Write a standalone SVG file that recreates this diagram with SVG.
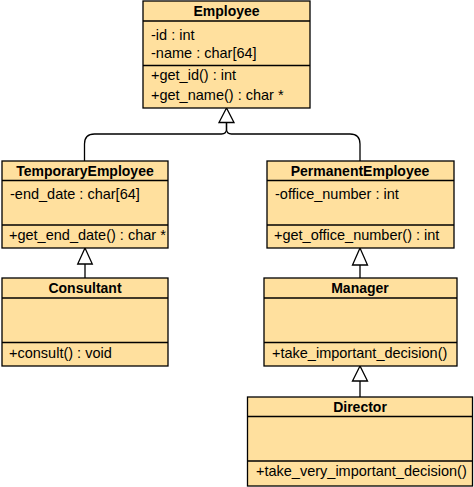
<svg xmlns="http://www.w3.org/2000/svg" width="474" height="487" viewBox="0 0 474 487">
<style>
.box{fill:#FFE09E;stroke:#000;stroke-width:1.3}
.ln{stroke:#000;stroke-width:1.3;fill:none}
.t{font-family:"Liberation Sans",Arial,sans-serif;font-size:14.5px;fill:#000}
.h{font-family:"Liberation Sans",Arial,sans-serif;font-size:14px;font-weight:bold;fill:#000;text-anchor:middle}
.edge{stroke:#000;stroke-width:1.3;fill:none}
.tri{fill:#fff;stroke:#000;stroke-width:1.3}
</style>
<rect width="474" height="487" fill="#fff"/>
<g id="connectors">
  <path class="edge" d="M226.5,122.5 V129 Q226.5,134 221.5,134 H94.5 Q84.5,134 84.5,144 V161"/>
  <path class="edge" d="M226.5,122.5 V129 Q226.5,134 231.5,134 H350 Q360,134 360,144 V161"/>
  <polygon class="tri" points="226.5,108 219,122.5 234,122.5"/>
  <path class="edge" d="M85,264 V278"/>
  <polygon class="tri" points="85,248 77.7,264 92.3,264"/>
  <path class="edge" d="M360,265 V278"/>
  <polygon class="tri" points="360,248 352.5,265 367.5,265"/>
  <path class="edge" d="M360,381 V397"/>
  <polygon class="tri" points="360,366 352.5,381 367.5,381"/>
</g>
<g id="Employee">
  <rect class="box" x="143" y="1" width="167" height="107"/>
  <line class="ln" x1="143" y1="21" x2="310" y2="21"/>
  <line class="ln" x1="143" y1="65.5" x2="310" y2="65.5"/>
  <text class="h" x="226.5" y="15.5">Employee</text>
  <text class="t" x="151" y="40">-id : int</text>
  <text class="t" x="151" y="58">-name : char[64]</text>
  <text class="t" x="151" y="80">+get_id() : int</text>
  <text class="t" x="151" y="100">+get_name() : char *</text>
</g>
<g id="TemporaryEmployee">
  <rect class="box" x="2" y="161" width="166" height="87"/>
  <line class="ln" x1="2" y1="180.5" x2="168" y2="180.5"/>
  <line class="ln" x1="2" y1="225" x2="168" y2="225"/>
  <text class="h" x="85" y="175.5">TemporaryEmployee</text>
  <text class="t" x="10" y="199">-end_date : char[64]</text>
  <text class="t" x="9" y="240">+get_end_date() : char *</text>
</g>
<g id="PermanentEmployee">
  <rect class="box" x="267" y="161" width="187" height="87"/>
  <line class="ln" x1="267" y1="180.5" x2="454" y2="180.5"/>
  <line class="ln" x1="267" y1="225" x2="454" y2="225"/>
  <text class="h" x="360" y="175.5">PermanentEmployee</text>
  <text class="t" x="275" y="199">-office_number : int</text>
  <text class="t" x="274" y="240">+get_office_number() : int</text>
</g>
<g id="Consultant">
  <rect class="box" x="2" y="278" width="166" height="88"/>
  <line class="ln" x1="2" y1="298" x2="168" y2="298"/>
  <line class="ln" x1="2" y1="342.5" x2="168" y2="342.5"/>
  <text class="h" x="85" y="292.5">Consultant</text>
  <text class="t" x="9" y="358">+consult() : void</text>
</g>
<g id="Manager">
  <rect class="box" x="264" y="278" width="193" height="88"/>
  <line class="ln" x1="264" y1="298" x2="457" y2="298"/>
  <line class="ln" x1="264" y1="342.5" x2="457" y2="342.5"/>
  <text class="h" x="360" y="292.5">Manager</text>
  <text class="t" x="272" y="358">+take_important_decision()</text>
</g>
<g id="Director">
  <rect class="box" x="247.5" y="397" width="225" height="89"/>
  <line class="ln" x1="247.5" y1="416.5" x2="472.5" y2="416.5"/>
  <line class="ln" x1="247.5" y1="461" x2="472.5" y2="461"/>
  <text class="h" x="360" y="411.5">Director</text>
  <text class="t" x="256" y="476">+take_very_important_decision()</text>
</g>
</svg>
